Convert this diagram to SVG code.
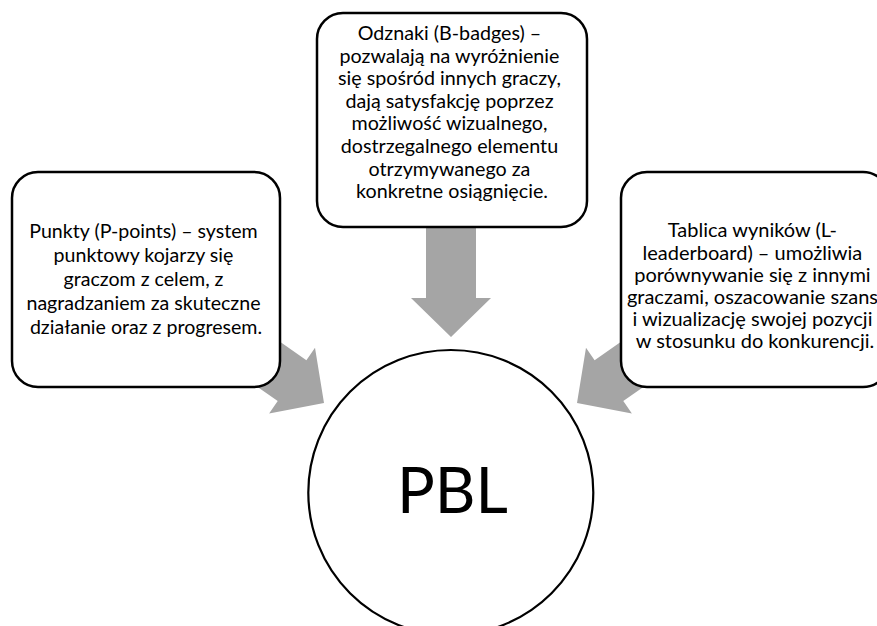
<svg xmlns="http://www.w3.org/2000/svg" width="877" height="626" viewBox="0 0 877 626">
  <defs>
    <style>
      .box { fill: #ffffff; stroke: #000000; stroke-width: 2.5; }
      .arrow { fill: #a5a5a5; stroke: none; }
      .t { font-family: Lato, "Open Sans", "Liberation Sans", sans-serif; fill: #000000; text-anchor: middle; }
      .tl { font-size: 19.6px; }
      .tt { font-size: 19.7px; }
      .tr { font-size: 20px; }
      .pbl { font-size: 63px; }
    </style>
    <polygon id="arr" points="-25,-120 25,-120 25,-39 40,-39 0,0 -40,-39 -25,-39"/>
  </defs>
  <rect width="877" height="626" fill="#ffffff"/>
  <g id="connectors">
    <use href="#arr" class="arrow" transform="translate(451,337)"/>
    <use href="#arr" class="arrow" transform="translate(324,403) rotate(-55)"/>
    <use href="#arr" class="arrow" transform="translate(577,403) rotate(55)"/>
  </g>
  <g id="node-points">
    <rect class="box" x="12" y="172" width="268" height="215" rx="26"/>
    <text class="t tl" x="146">
      <tspan x="146" y="238">Punkty (P-points) – system</tspan>
      <tspan x="146" y="262">punktowy kojarzy się</tspan>
      <tspan x="146" y="286">graczom z celem, z</tspan>
      <tspan x="146" y="310">nagradzaniem za skuteczne</tspan>
      <tspan x="146" y="334">działanie oraz z progresem.</tspan>
    </text>
  </g>
  <g id="node-badges">
    <rect class="box" x="317" y="13" width="270" height="214" rx="26"/>
    <text class="t tt">
      <tspan x="452" y="40">Odznaki (B-badges) –</tspan>
      <tspan x="452" y="62.6">pozwalają na wyróżnienie</tspan>
      <tspan x="452" y="85.2">się spośród innych graczy,</tspan>
      <tspan x="452" y="107.8">dają satysfakcję poprzez</tspan>
      <tspan x="452" y="130.4">możliwość wizualnego,</tspan>
      <tspan x="452" y="153">dostrzegalnego elementu</tspan>
      <tspan x="452" y="175.6">otrzymywanego za</tspan>
      <tspan x="452" y="198.2">konkretne osiągnięcie.</tspan>
    </text>
  </g>
  <g id="node-leaderboard">
    <rect class="box" x="621" y="172" width="268" height="215" rx="26"/>
    <text class="t tr">
      <tspan x="755" y="237.3">Tablica wyników (L-</tspan>
      <tspan x="755" y="259.5">leaderboard) – umożliwia</tspan>
      <tspan x="755" y="281.7">porównywanie się z innymi</tspan>
      <tspan x="755" y="303.9">graczami, oszacowanie szans</tspan>
      <tspan x="755" y="326.1">i wizualizację swojej pozycji</tspan>
      <tspan x="755" y="348.3">w stosunku do konkurencji.</tspan>
    </text>
  </g>
  <g id="node-pbl">
    <circle class="box" cx="450.8" cy="492.5" r="142.5" style="stroke-width:2.2"/>
    <text class="t pbl" x="452.5" y="513">PBL</text>
  </g>
</svg>
